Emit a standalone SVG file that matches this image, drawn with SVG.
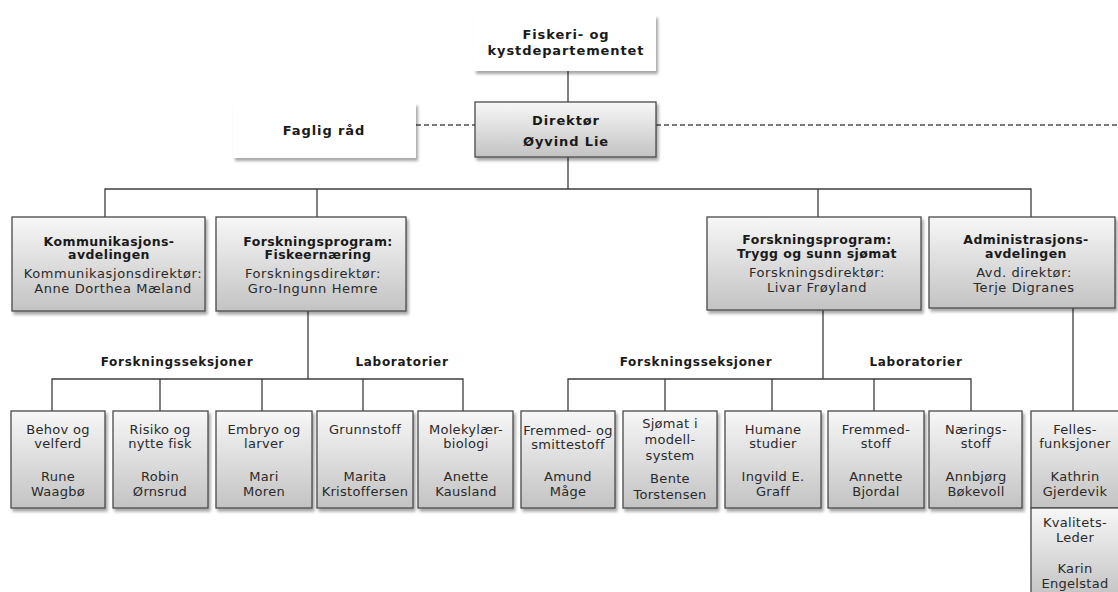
<svg xmlns="http://www.w3.org/2000/svg" width="1118" height="592" viewBox="0 0 1118 592">
<defs>
<linearGradient id="g" x1="0" y1="0" x2="0" y2="1">
<stop offset="0" stop-color="#f7f7f7"/>
<stop offset="1" stop-color="#c3c3c3"/>
</linearGradient>
<filter id="sh" x="-10%" y="-10%" width="130%" height="140%">
<feDropShadow dx="2" dy="3" stdDeviation="1.8" flood-color="#000" flood-opacity="0.35"/>
</filter>
<style>
.box{fill:url(#g);stroke:#4a4a4a;stroke-width:1.3;filter:url(#sh)}
.wbox{fill:#fff;filter:url(#sh)}
.ln{stroke:#3c3c3c;stroke-width:1.3;fill:none}
.dash{stroke:#7a7a7a;stroke-width:2;stroke-dasharray:5 3;fill:none}
text{font-family:"DejaVu Sans",Verdana,sans-serif;text-anchor:middle;fill:#1a1a1a}
.hb{font-weight:bold;font-size:13px;letter-spacing:0.9px}
.tb{font-weight:bold;font-size:12.5px;letter-spacing:0.4px}
.sub{font-size:13px;letter-spacing:0.6px;fill:#2a2a2a}
.lbl{font-weight:bold;font-size:12px;letter-spacing:0.7px}
.bt{font-size:13px;letter-spacing:0.3px;fill:#2a2a2a}
</style>
</defs>
<rect width="1118" height="592" fill="#fff"/>

<g id="connectors">
<line class="ln" x1="568" y1="71" x2="568" y2="102"/>
<line class="ln" x1="568" y1="157" x2="568" y2="189"/>
<line class="dash" x1="416" y1="125" x2="475" y2="125"/>
<line class="dash" x1="656" y1="125" x2="1118" y2="125"/>
<polyline class="ln" points="105,217 105,189 1031,189 1031,217"/>
<line class="ln" x1="317" y1="189" x2="317" y2="217"/>
<line class="ln" x1="818" y1="189" x2="818" y2="217"/>
<line class="ln" x1="308" y1="310" x2="308" y2="379"/>
<polyline class="ln" points="52,411 52,379 463,379 463,411"/>
<line class="ln" x1="160" y1="379" x2="160" y2="411"/>
<line class="ln" x1="262" y1="379" x2="262" y2="411"/>
<line class="ln" x1="363" y1="379" x2="363" y2="411"/>
<line class="ln" x1="823" y1="310" x2="823" y2="379"/>
<polyline class="ln" points="568,411 568,379 971,379 971,411"/>
<line class="ln" x1="665" y1="379" x2="665" y2="411"/>
<line class="ln" x1="772" y1="379" x2="772" y2="411"/>
<line class="ln" x1="874" y1="379" x2="874" y2="411"/>
<line class="ln" x1="1073" y1="308" x2="1073" y2="411"/>
</g>

<g id="departement">
<rect class="wbox" x="474" y="15" width="182" height="56"/>
<text class="hb" x="566" y="39">Fiskeri- og</text>
<text class="hb" x="566" y="55">kystdepartementet</text>
</g>

<g id="faglig-raad">
<rect class="wbox" x="233" y="103" width="183" height="55"/>
<text class="hb" x="324" y="135">Faglig råd</text>
</g>

<g id="direktor">
<rect class="box" x="475" y="102" width="181" height="55"/>
<text class="hb" x="566" y="125">Direktør</text>
<text class="hb" x="566" y="146">Øyvind Lie</text>
</g>

<g id="kommunikasjon">
<rect class="box" x="12" y="217" width="193" height="94"/>
<text class="tb" x="109" y="246">Kommunikasjons-</text>
<text class="tb" x="109" y="259">avdelingen</text>
<text class="sub" x="113" y="278">Kommunikasjonsdirektør:</text>
<text class="sub" x="113" y="293">Anne Dorthea Mæland</text>
</g>

<g id="fiskeernaering">
<rect class="box" x="216" y="217" width="190" height="94"/>
<text class="tb" x="318" y="246">Forskningsprogram:</text>
<text class="tb" x="318" y="259">Fiskeernæring</text>
<text class="sub" x="313" y="278">Forskningsdirektør:</text>
<text class="sub" x="313" y="293">Gro-Ingunn Hemre</text>
</g>

<g id="trygg-sjomat">
<rect class="box" x="707" y="217" width="214" height="93"/>
<text class="tb" x="817" y="244">Forskningsprogram:</text>
<text class="tb" x="817" y="258">Trygg og sunn sjømat</text>
<text class="sub" x="817" y="277">Forskningsdirektør:</text>
<text class="sub" x="817" y="292">Livar Frøyland</text>
</g>

<g id="administrasjon">
<rect class="box" x="929" y="217" width="186" height="91"/>
<text class="tb" x="1026" y="244">Administrasjons-</text>
<text class="tb" x="1026" y="258">avdelingen</text>
<text class="sub" x="1024" y="277">Avd. direktør:</text>
<text class="sub" x="1024" y="292">Terje Digranes</text>
</g>

<g id="labels">
<text class="lbl" x="177" y="366">Forskningsseksjoner</text>
<text class="lbl" x="402" y="366">Laboratorier</text>
<text class="lbl" x="696" y="366">Forskningsseksjoner</text>
<text class="lbl" x="916" y="366">Laboratorier</text>
</g>

<g id="behov">
<rect class="box" x="11" y="411" width="94" height="97"/>
<text class="bt" x="58" y="434">Behov og</text>
<text class="bt" x="58" y="448">velferd</text>
<text class="bt" x="58" y="481">Rune</text>
<text class="bt" x="58" y="496">Waagbø</text>
</g>

<g id="risiko">
<rect class="box" x="113" y="411" width="95" height="97"/>
<text class="bt" x="160" y="434">Risiko og</text>
<text class="bt" x="160" y="448">nytte fisk</text>
<text class="bt" x="160" y="481">Robin</text>
<text class="bt" x="160" y="496">Ørnsrud</text>
</g>

<g id="embryo">
<rect class="box" x="216" y="411" width="96" height="97"/>
<text class="bt" x="264" y="434">Embryo og</text>
<text class="bt" x="264" y="448">larver</text>
<text class="bt" x="264" y="481">Mari</text>
<text class="bt" x="264" y="496">Moren</text>
</g>

<g id="grunnstoff">
<rect class="box" x="317" y="411" width="96" height="97"/>
<text class="bt" x="365" y="434">Grunnstoff</text>
<text class="bt" x="365" y="481">Marita</text>
<text class="bt" x="365" y="496">Kristoffersen</text>
</g>

<g id="molekylaer">
<rect class="box" x="418" y="411" width="95" height="97"/>
<text class="bt" x="466" y="434">Molekylær-</text>
<text class="bt" x="466" y="448">biologi</text>
<text class="bt" x="466" y="481">Anette</text>
<text class="bt" x="466" y="496">Kausland</text>
</g>

<g id="fremmed-smitte">
<rect class="box" x="521" y="411" width="94" height="97"/>
<text class="bt" x="568" y="435">Fremmed- og</text>
<text class="bt" x="568" y="449">smittestoff</text>
<text class="bt" x="568" y="481">Amund</text>
<text class="bt" x="568" y="496">Måge</text>
</g>

<g id="sjomat-modell">
<rect class="box" x="623" y="411" width="94" height="97"/>
<text class="bt" x="670" y="428">Sjømat i</text>
<text class="bt" x="670" y="444">modell-</text>
<text class="bt" x="670" y="460">system</text>
<text class="bt" x="670" y="483">Bente</text>
<text class="bt" x="670" y="499">Torstensen</text>
</g>

<g id="humane">
<rect class="box" x="725" y="411" width="96" height="97"/>
<text class="bt" x="773" y="434">Humane</text>
<text class="bt" x="773" y="448">studier</text>
<text class="bt" x="773" y="481">Ingvild E.</text>
<text class="bt" x="773" y="496">Graff</text>
</g>

<g id="fremmedstoff">
<rect class="box" x="828" y="411" width="96" height="97"/>
<text class="bt" x="876" y="434">Fremmed-</text>
<text class="bt" x="876" y="448">stoff</text>
<text class="bt" x="876" y="481">Annette</text>
<text class="bt" x="876" y="496">Bjordal</text>
</g>

<g id="naeringsstoff">
<rect class="box" x="929" y="411" width="93" height="97"/>
<text class="bt" x="976" y="434">Nærings-</text>
<text class="bt" x="976" y="448">stoff</text>
<text class="bt" x="976" y="481">Annbjørg</text>
<text class="bt" x="976" y="496">Bøkevoll</text>
</g>

<g id="felles">
<rect class="box" x="1031" y="411" width="92" height="97"/>
<text class="bt" x="1075" y="434">Felles-</text>
<text class="bt" x="1075" y="448">funksjoner</text>
<text class="bt" x="1075" y="481">Kathrin</text>
<text class="bt" x="1075" y="496">Gjerdevik</text>
</g>

<g id="kvalitet">
<rect class="box" x="1031" y="508" width="92" height="90"/>
<text class="bt" x="1075" y="527">Kvalitets-</text>
<text class="bt" x="1075" y="542">Leder</text>
<text class="bt" x="1075" y="573">Karin</text>
<text class="bt" x="1075" y="588">Engelstad</text>
</g>
</svg>
